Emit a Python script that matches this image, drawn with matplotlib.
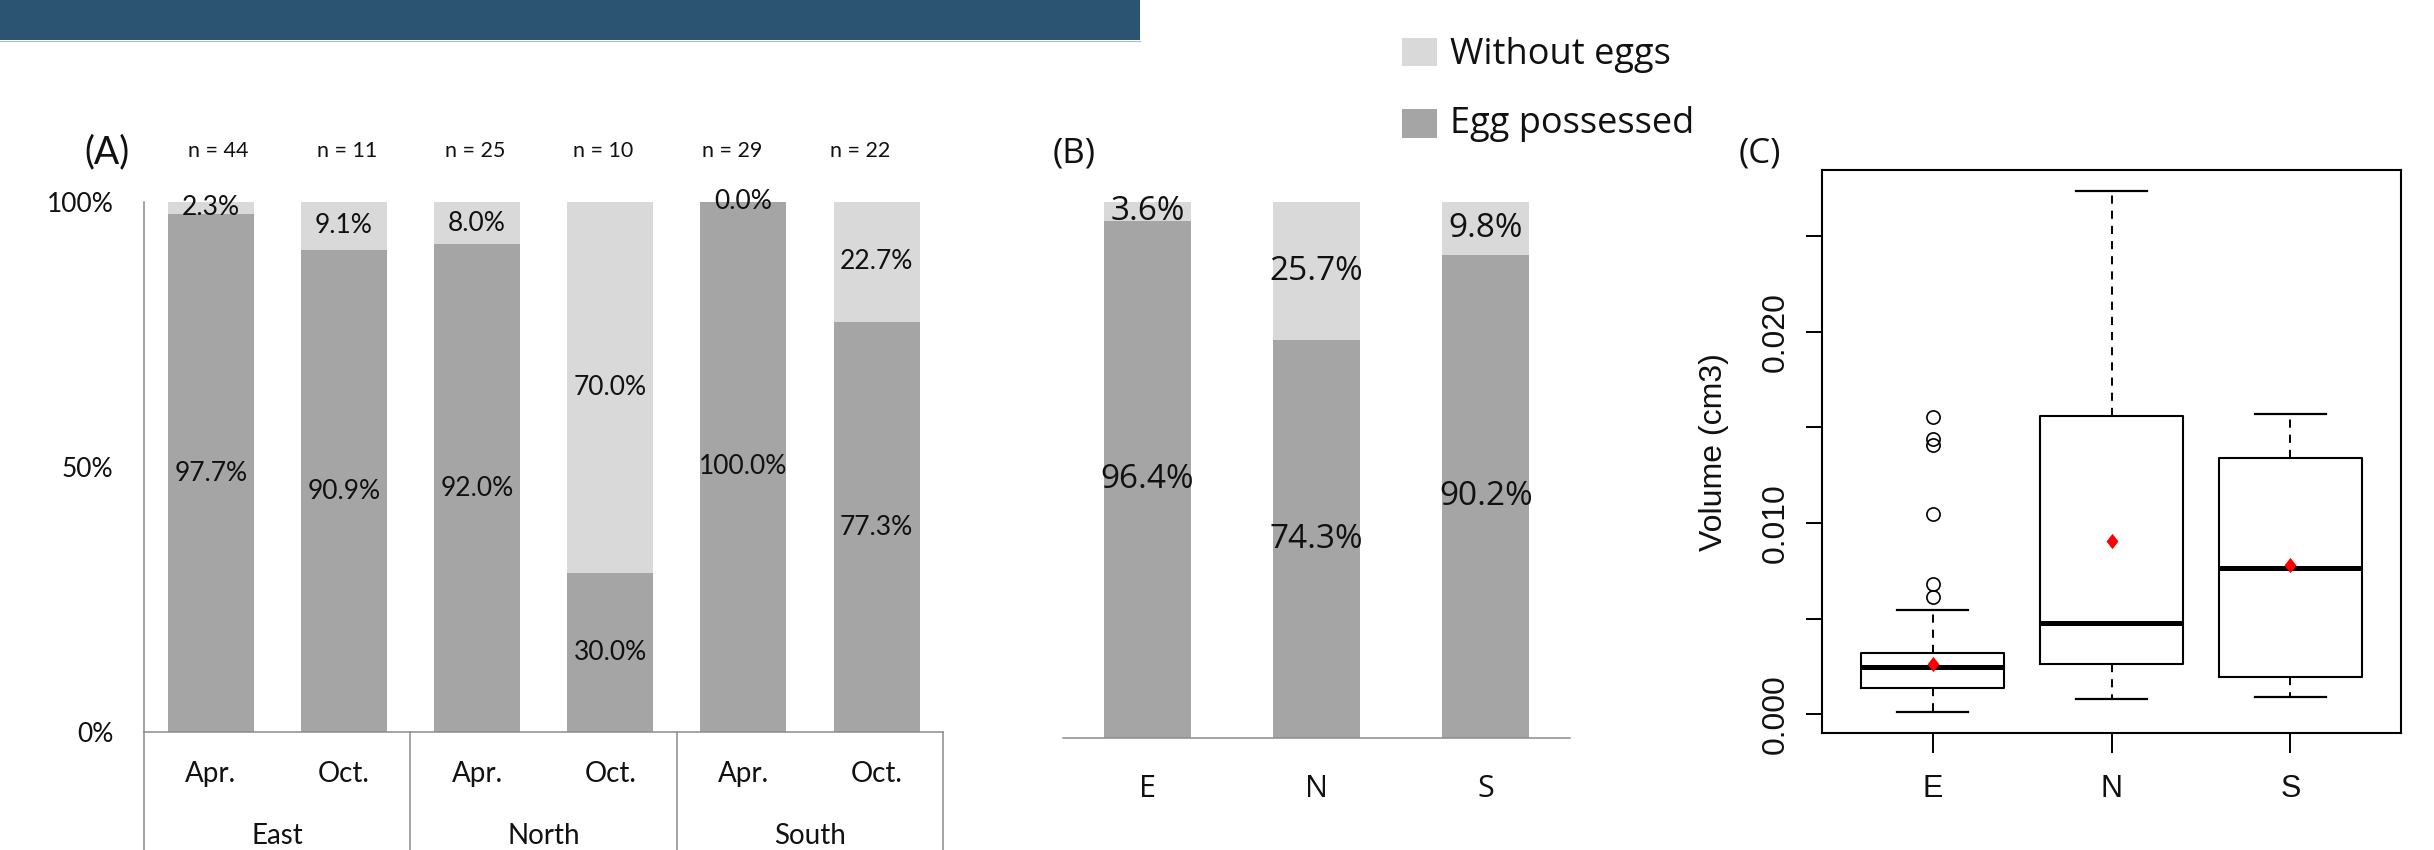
import matplotlib
matplotlib.use("Agg")
import matplotlib.pyplot as plt
from matplotlib.patches import Rectangle
from matplotlib.lines import Line2D
from matplotlib.transforms import blended_transform_factory
import numpy as np

# ---------------------------------------------------------------- data
# (A) share of females with / without eggs by site and month
months = ["Apr.", "Oct.", "Apr.", "Oct.", "Apr.", "Oct."]
regions = ["East", "North", "South"]
sample_sizes = [44, 11, 25, 10, 29, 22]
egg_pct_a = [97.7, 90.9, 92.0, 30.0, 100.0, 77.3]
noegg_pct_a = [2.3, 9.1, 8.0, 70.0, 0.0, 22.7]

# (B) pooled by site
sites = ["E", "N", "S"]
egg_pct_b = [96.4, 74.3, 90.2]
noegg_pct_b = [3.6, 25.7, 9.8]

# (C) egg volume (cm3) box-plot summaries by site
vol_whislo = [0.0001, 0.0008, 0.0009]
vol_q1 = [0.00137, 0.00264, 0.00196]
vol_med = [0.00244, 0.00477, 0.00766]
vol_q3 = [0.00322, 0.01558, 0.01339]
vol_whishi = [0.00545, 0.02736, 0.01568]
vol_mean = [0.00264, 0.00907, 0.00779]
vol_fliers = [[0.01555, 0.01440, 0.01407, 0.01045, 0.00680, 0.00613], [], []]

# ---------------------------------------------------------------- style
W, H, DPI = 2434, 850, 100
DARK = "#A5A5A5"
LIGHT = "#D9D9D9"
AXGRAY = "#8C8C8C"
TXT = "#111111"
FONT_A = ["Lato", "DejaVu Sans"]
FONT_B = ["Open Sans", "DejaVu Sans"]
FONT_C = ["Liberation Sans", "DejaVu Sans"]


def fx(px):
    return px / W


def fy(py):
    return 1 - py / H


def box(l, t, r, b):
    return [fx(l), fy(b), (r - l) / W, (b - t) / H]


fig = plt.figure(figsize=(W / DPI, H / DPI), dpi=DPI)
fig.patch.set_facecolor("white")

# header banner
fig.patches.append(Rectangle((0, fy(39.6)), fx(1140), 39.6 / H,
                             transform=fig.transFigure, facecolor="#2A5472",
                             edgecolor="none", zorder=0))
fig.lines.append(Line2D([0, fx(1140)], [fy(40.5), fy(40.5)],
                        transform=fig.transFigure, color="#A9BCCC", lw=0.8))

# ---------------------------------------------------------------- panel A
ax_a = fig.add_axes(box(144.1, 201.8, 943.2, 732.1))
xa = np.arange(len(egg_pct_a))
ax_a.bar(xa, egg_pct_a, width=0.646, color=DARK, zorder=2)
ax_a.bar(xa, noegg_pct_a, width=0.646, bottom=egg_pct_a, color=LIGHT, zorder=2)
ax_a.set_xlim(-0.5, len(xa) - 0.5)
ax_a.set_ylim(0, 100)
for s in ("top", "right"):
    ax_a.spines[s].set_visible(False)
for s in ("left", "bottom"):
    ax_a.spines[s].set_color(AXGRAY)
    ax_a.spines[s].set_linewidth(1.1)
ax_a.set_xticks([])
ax_a.set_yticks([0, 50, 100])
ax_a.set_yticklabels(["0%", "50%", "100%"], family=FONT_A, fontsize=19, color=TXT)
ax_a.tick_params(axis="y", length=0, pad=22)

for i, (e, n) in enumerate(zip(egg_pct_a, noegg_pct_a)):
    ax_a.text(i, e / 2, f"{e:.1f}%", ha="center", va="center",
              family=FONT_A, fontsize=19, color=TXT, zorder=3)
    ax_a.text(i, e + n / 2, f"{n:.1f}%", ha="center", va="center",
              family=FONT_A, fontsize=19, color=TXT, zorder=3)

tr_a = blended_transform_factory(ax_a.transData, ax_a.transAxes)
for i, m in enumerate(months):
    ax_a.text(i, -0.094, m, transform=tr_a, ha="center", va="baseline",
              family=FONT_A, fontsize=20, color=TXT)
for g, r in enumerate(regions):
    ax_a.text(2 * g + 0.5, -0.211, r, transform=tr_a, ha="center",
              va="baseline", family=FONT_A, fontsize=20, color=TXT)
for xs in np.arange(-0.5, len(xa), 2):
    ax_a.plot([xs, xs], [0, -0.3], transform=tr_a, color=AXGRAY, lw=1.1,
              clip_on=False)
for i, n in enumerate(sample_sizes):
    ax_a.text(0.06 + 0.963 * i, 1.0845, f"n = {n}", transform=tr_a,
              ha="center", va="baseline", family=FONT_A, fontsize=15.5,
              color=TXT)
fig.text(fx(107), fy(152), "(A)", ha="center", va="center",
         family=FONT_A, fontsize=27, color=TXT)

# ---------------------------------------------------------------- panel B
ax_b = fig.add_axes(box(1062.8, 202.2, 1570.4, 738.2))
xb = np.arange(len(sites))
ax_b.bar(xb, egg_pct_b, width=0.513, color=DARK, zorder=2)
ax_b.bar(xb, noegg_pct_b, width=0.513, bottom=egg_pct_b, color=LIGHT, zorder=2)
ax_b.set_xlim(-0.5, len(xb) - 0.5)
ax_b.set_ylim(0, 100)
for s in ("top", "right", "left"):
    ax_b.spines[s].set_visible(False)
ax_b.spines["bottom"].set_color(AXGRAY)
ax_b.spines["bottom"].set_linewidth(1.1)
ax_b.set_xticks([])
ax_b.set_yticks([])
for i, (e, n) in enumerate(zip(egg_pct_b, noegg_pct_b)):
    ax_b.text(i, e / 2, f"{e:.1f}%", ha="center", va="center",
              family=FONT_B, fontsize=24, color=TXT, zorder=3)
    ax_b.text(i, e + n / 2, f"{n:.1f}%", ha="center", va="center",
              family=FONT_B, fontsize=24, color=TXT, zorder=3)
tr_b = blended_transform_factory(ax_b.transData, ax_b.transAxes)
for i, s in enumerate(sites):
    ax_b.text(i, -0.1097, s, transform=tr_b, ha="center", va="baseline",
              family=FONT_B, fontsize=22, color=TXT)
fig.text(fx(1074), fy(153), "(B)", ha="center", va="center",
         family=FONT_B, fontsize=25, color=TXT)

# legend
for (top, bot, col, lab, base) in [(38, 66, LIGHT, "Without eggs", 64),
                                   (108.5, 137.5, DARK, "Egg possessed", 133)]:
    fig.patches.append(Rectangle((fx(1401.7), fy(bot)), 35 / W, (bot - top) / H,
                                 transform=fig.transFigure, facecolor=col,
                                 edgecolor="none"))
    fig.text(fx(1450), fy(base), lab, ha="left", va="baseline",
             family=FONT_B, fontsize=26, color=TXT)

# ---------------------------------------------------------------- panel C
ax_c = fig.add_axes(box(1821.7, 170.3, 2401.3, 733.0))
stats = []
for k, s in enumerate(sites):
    stats.append(dict(label=s, med=vol_med[k], q1=vol_q1[k], q3=vol_q3[k],
                      whislo=vol_whislo[k], whishi=vol_whishi[k],
                      fliers=vol_fliers[k]))
pos = np.arange(1, len(sites) + 1)
ax_c.bxp(stats, positions=pos, widths=0.8, capwidths=0.4, showfliers=True,
         boxprops=dict(color="black", lw=1.5),
         whiskerprops=dict(color="black", lw=1.4, linestyle=(0, (4.2, 3.6))),
         capprops=dict(color="black", lw=1.6),
         medianprops=dict(color="black", lw=3.6, solid_capstyle="butt"),
         flierprops=dict(marker="o", markerfacecolor="none",
                         markeredgecolor="black", markersize=9.5,
                         markeredgewidth=1.2))
diamond = [(0, 1), (0.78, 0), (0, -1), (-0.78, 0), (0, 1)]
ax_c.plot(pos, vol_mean, linestyle="none", marker=diamond, markersize=11,
          color="red", markeredgecolor="none", zorder=5)

all_vals = np.concatenate([vol_whislo, vol_whishi] + [np.asarray(f, float) for f in vol_fliers])
lo, hi = all_vals.min(), all_vals.max()
padv = 0.04 * (hi - lo)
ax_c.set_ylim(lo - padv, hi + padv)
ax_c.set_xlim(0.5 - 0.12, len(sites) + 0.5 + 0.12)

for s in ax_c.spines.values():
    s.set_linewidth(1.5)
    s.set_color("black")

yt = np.arange(0, 0.0251, 0.005)
ax_c.set_yticks(yt)
ax_c.set_yticklabels([f"{v:.3f}" if k % 2 == 0 else "" for k, v in enumerate(yt)],
                     family=FONT_C, fontsize=23, color=TXT)
ax_c.tick_params(axis="y", length=11.3, width=1.4, pad=11, labelrotation=90)
for lbl in ax_c.get_yticklabels():
    lbl.set_va("center")
ax_c.set_xticks(pos)
ax_c.set_xticklabels(sites, family=FONT_C, fontsize=22, color=TXT)
ax_c.tick_params(axis="x", length=14.4, width=1.4, pad=15)
ax_c.set_ylabel("Volume (cm3)", family=FONT_C, fontsize=23, color=TXT)
ax_c.yaxis.set_label_coords(-0.16, 0.5)
fig.text(fx(1760), fy(153), "(C)", ha="center", va="center",
         family=FONT_B, fontsize=25, color=TXT)

fig.savefig("out.png", dpi=DPI, facecolor="white")
